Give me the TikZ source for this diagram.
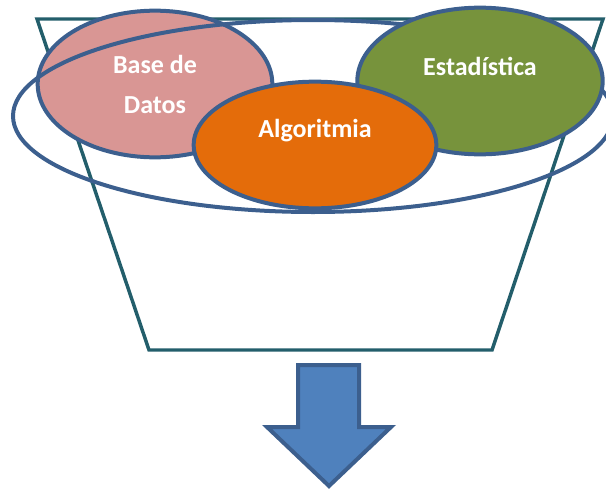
\documentclass[tikz,border=0pt]{standalone}
\usepackage{fontspec}
\setmainfont{Carlito}
\usetikzlibrary{shapes.geometric}
\usetikzlibrary{positioning}
\definecolor{pinkfill}{HTML}{D99694}
\definecolor{greenfill}{HTML}{77933C}
\definecolor{orangefill}{HTML}{E46C0A}
\definecolor{rimblue}{HTML}{3C5F8E}
\definecolor{funnelteal}{HTML}{235E6B}
\definecolor{arrowfill}{HTML}{4F81BD}
\tikzset{area/.style = {ellipse, draw = rimblue, line width = 3pt, inner sep = 0pt},
         lbl/.style = {text = white, font = \bfseries\fontsize{19.5}{30}\selectfont,
                       align = center, inner sep = 0pt}}

\begin{document}
\begin{tikzpicture}[x=0.75pt, y=-0.75pt]
      \useasboundingbox (0, 0) rectangle (606, 489);

      % funnel
      \draw [funnelteal, line width = 2.6pt, line join = miter]
      (37, 19) -- (603, 19) -- (492, 350) -- (149, 350) -- cycle;

      \node [area, fill = pinkfill, minimum width = 176pt, minimum height = 110pt]
        (bd) at (155, 84) {};
      \node [area, minimum width = 450pt, minimum height = 144pt]
        (all) at (313, 116) {};
      \node [area, fill = greenfill, minimum width = 184pt, minimum height = 110pt]
        (est) at (480, 81) {};
      \node [area, fill = orangefill, minimum width = 182pt, minimum height = 95pt]
        (alg) at (315, 145) {};

      \node [lbl] (bdtext) at (bd.center) {Base de\\Datos};
      \node [lbl, yshift = 11pt] (esttext) at (est.center) {Estadística};
      \node [lbl, yshift = 11pt] (algtext) at (alg.center) {Algoritmia};

      % output arrow
      \draw [draw = rimblue, fill = arrowfill, line width = 3pt, line join = miter]
      (298, 365) -- (359, 365) -- (359, 427) -- (391, 427) -- (329, 486) --
      (267, 427) -- (298, 427) -- cycle;
\end{tikzpicture}
\end{document}
